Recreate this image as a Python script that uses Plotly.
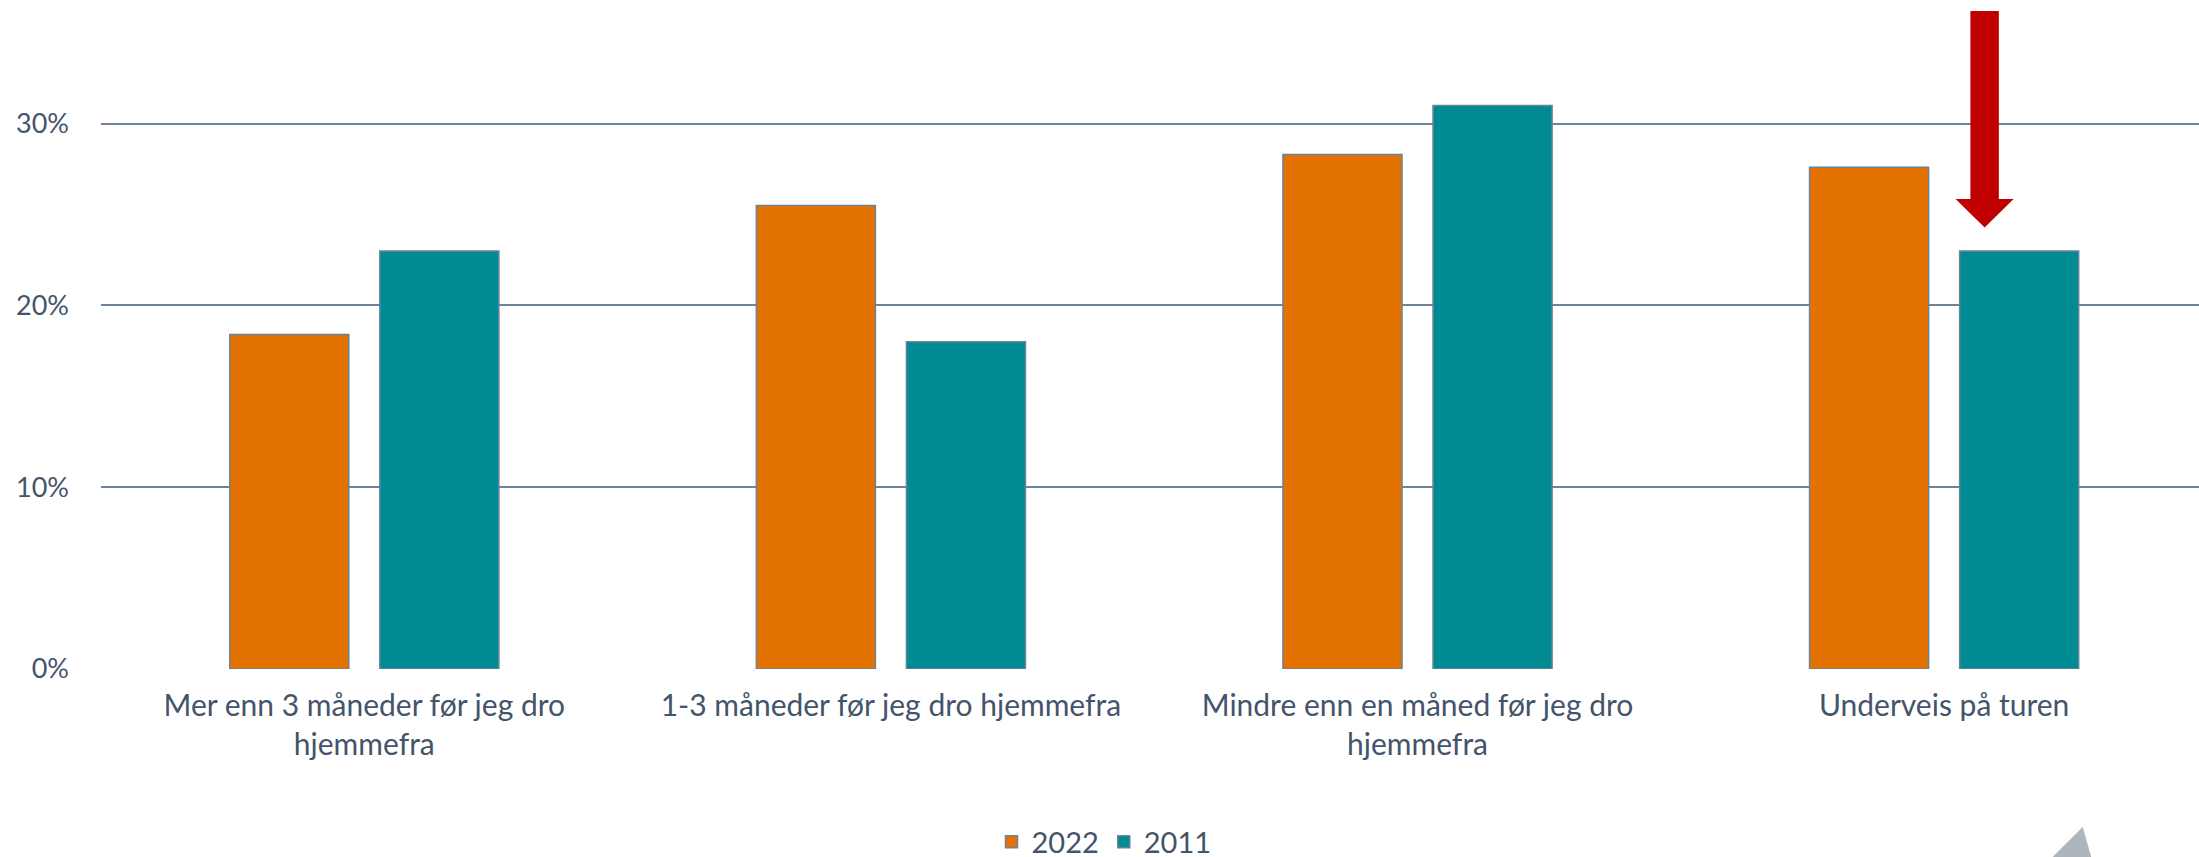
import plotly.graph_objects as go

categories = [
    "Mer enn 3 måneder før jeg dro<br>hjemmefra",
    "1-3 måneder før jeg dro hjemmefra",
    "Mindre enn en måned før jeg dro<br>hjemmefra",
    "Underveis på turen",
]
series_names = ["2022", "2011"]
values_2022 = [18.4, 25.5, 28.3, 27.6]
values_2011 = [23.0, 18.0, 31.0, 23.0]
y_ticks = [0, 10, 20, 30]
y_tick_labels = ["0%", "10%", "20%", "30%"]

ORANGE = "#E37200"
TEAL = "#008B92"
EDGE = "#6A8399"
GRID = "#6E8599"
TEXT = "#44546A"
FONT = "Lato"

W, H = 2199, 857
ml, mr, mt, mb = 101, 0, 0, 187.7
ymax = 36.80
xr = [-0.5, 3.484]

fig = go.Figure()
fig.add_trace(go.Bar(x=list(range(4)), y=values_2022, name=series_names[0],
                     marker=dict(color=ORANGE, line=dict(color=EDGE, width=1.5))))
fig.add_trace(go.Bar(x=list(range(4)), y=values_2011, name=series_names[1],
                     marker=dict(color=TEAL, line=dict(color=EDGE, width=1.5))))

# red block arrow pointing down at the 2011 bar of the last category
cx = 3 + 0.0769
sw, hw = 0.027, 0.0551
y_top, y_head, y_tip = 36.20, 25.86, 24.28
path = (f"M{cx-sw},{y_top} L{cx+sw},{y_top} L{cx+sw},{y_head} L{cx+hw},{y_head} "
        f"L{cx},{y_tip} L{cx-hw},{y_head} L{cx-sw},{y_head} Z")
fig.add_shape(type="path", path=path, xref="x", yref="y",
              fillcolor="#C00000", line=dict(width=0), layer="above")

# grey decorative triangle bottom right (in paper coords)
pw = W - ml - mr
ph = H - mt - mb
def px(xp):
    return (xp - ml) / pw
def py(yp):
    return (H - mb - yp) / ph
tri = (f"M{px(2082.7)},{py(827.3)} L{px(2092)},{py(860)} L{px(2050)},{py(860)} Z")
fig.add_shape(type="path", path=tri, xref="paper", yref="paper",
              fillcolor="#ADB5BD", line=dict(width=0), layer="above")

fig.update_layout(
    width=W, height=H,
    margin=dict(l=ml, r=mr, t=mt, b=mb, pad=0, autoexpand=False),
    paper_bgcolor="white", plot_bgcolor="white",
    barmode="group", bargap=0.430, bargroupgap=0.2067,
    font=dict(family=FONT, size=30, color=TEXT),
    showlegend=True,
    legend=dict(orientation="h", xref="container", yref="container",
                x=1104 / W, xanchor="center", y=(H - 842) / H, yanchor="middle",
                font=dict(size=29, color=TEXT), traceorder="normal", itemwidth=30),
    xaxis=dict(range=xr, tickmode="array", tickvals=list(range(4)), ticktext=categories,
               showgrid=False, zeroline=False, showline=False, ticks="", automargin=False,
               tickfont=dict(size=30, color=TEXT), ticklabelstandoff=16),
    yaxis=dict(range=[0, ymax], tickmode="array", tickvals=y_ticks, ticktext=y_tick_labels,
               showgrid=True, gridcolor=GRID, gridwidth=1.5, zeroline=False, showline=False,
               ticks="", automargin=False,
               tickfont=dict(size=27, color=TEXT), ticklabelstandoff=31),
)

fig.write_html("out.html", config={"displayModeBar": False},
               post_script="document.body.style.margin='0';document.body.style.overflow='hidden';")
